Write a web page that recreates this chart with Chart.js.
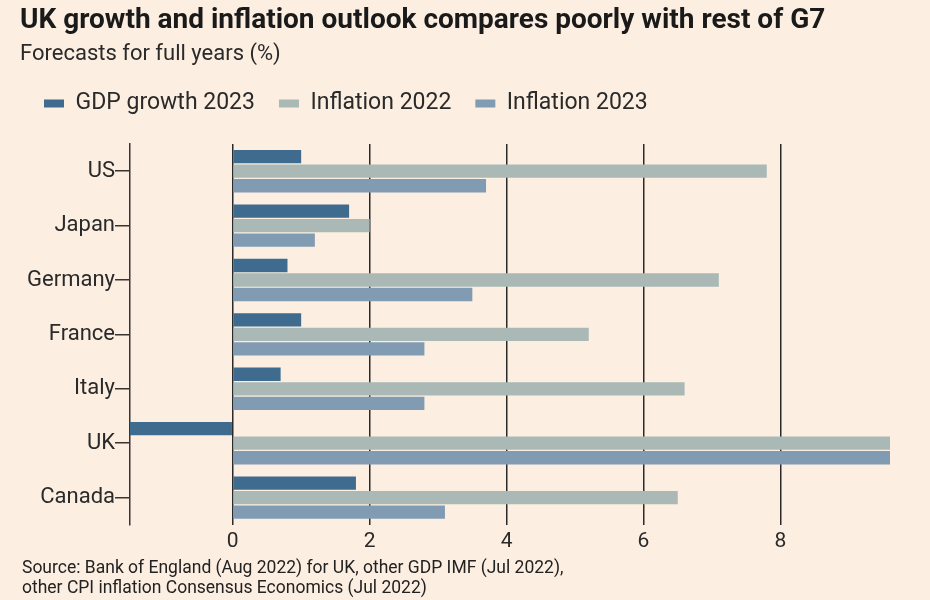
<!DOCTYPE html>
<html>
<head>
<meta charset="utf-8">
<script src="https://cdn.jsdelivr.net/npm/chart.js@4"></script>
<style>
  html, body { margin: 0; padding: 0; background: #fcefe2; }
  #wrap { position: relative; width: 930px; height: 600px; }
  #source {
    position: absolute; left: 22px; top: 557px;
    font-family: "Roboto", sans-serif;
    font-size: 17.5px; line-height: 20px; color: #222;
  }
</style>
</head>
<body>
<div id="wrap">
  <canvas id="chart" width="930" height="600"></canvas>
  <div id="source">Source: Bank of England (Aug 2022) for UK, other GDP IMF (Jul 2022),<br>other CPI inflation Consensus Economics (Jul 2022)</div>
</div>
<script>
  // countries, top to bottom
  const countries = ['US', 'Japan', 'Germany', 'France', 'Italy', 'UK', 'Canada'];

  // forecasts, %
  const gdp2023 = [1.0, 1.7, 0.8, 1.0, 0.7, -1.5, 1.8];
  const inflation2022 = [7.8, 2.0, 7.1, 5.2, 6.6, 9.6, 6.5];
  const inflation2023 = [3.7, 1.2, 3.5, 2.8, 2.8, 9.6, 3.1];

  const xTicks = [0, 2, 4, 6, 8];

  const font = "'Roboto', sans-serif";
  const ink = '#2a2a2a';

  // extra room between the legend and the bars
  const legendGap = {
    id: 'legendGap',
    beforeInit(chart) {
      const fit = chart.legend.fit;
      chart.legend.fit = function () {
        fit.bind(chart.legend)();
        this.height += 19;
      };
    }
  };

  const ctx = document.getElementById('chart').getContext('2d');

  new Chart(ctx, {
    type: 'bar',
    data: {
      labels: countries,
      datasets: [
        { label: 'GDP growth 2023', data: gdp2023, backgroundColor: '#3e6b8e' },
        { label: 'Inflation 2022', data: inflation2022, backgroundColor: '#aab9b5' },
        { label: 'Inflation 2023', data: inflation2023, backgroundColor: '#819cb2' }
      ]
    },
    plugins: [legendGap],
    options: {
      indexAxis: 'y',
      responsive: false,
      animation: false,
      layout: { padding: { left: 20, right: 40, top: 4, bottom: 42 } },
      datasets: {
        bar: { categoryPercentage: 0.8, barPercentage: 0.92 }
      },
      plugins: {
        title: {
          display: true, align: 'start', text: 'UK growth and inflation outlook compares poorly with rest of G7',
          color: '#1a1a1a', font: { family: font, size: 28, weight: 'bold' },
          padding: { top: 0, bottom: 4 }
        },
        subtitle: {
          display: true, align: 'start', text: 'Forecasts for full years (%)',
          color: ink, font: { family: font, size: 22 },
          padding: { bottom: 0 }
        },
        legend: {
          align: 'start',
          labels: {
            color: ink, font: { family: font, size: 23 },
            boxWidth: 20, boxHeight: 8, padding: 24
          }
        },
        tooltip: { enabled: false }
      },
      scales: {
        x: {
          min: -1.5, max: 9.6,
          afterBuildTicks: (scale) => { scale.ticks = xTicks.map(v => ({ value: v })); },
          border: { display: false },
          grid: { color: '#2a2a2a', lineWidth: 1.5, drawTicks: false },
          ticks: { color: ink, font: { family: font, size: 21 }, padding: 4 }
        },
        y: {
          afterFit: (scale) => { scale.width = 110; },
          border: { display: true, color: '#3a3330', width: 1.5 },
          grid: { offset: false, drawOnChartArea: false, drawTicks: true, tickLength: 15, color: '#3a3330', lineWidth: 1.5 },
          ticks: { color: ink, font: { family: font, size: 22 }, padding: 0 }
        }
      }
    }
  });
</script>
</body>
</html>
